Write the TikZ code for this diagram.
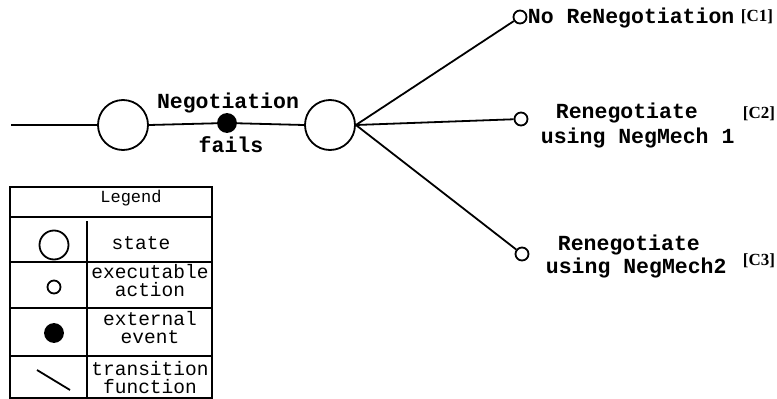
\documentclass[tikz,border=0pt]{standalone}
\usepackage{fontspec}
\setmainfont{Liberation Serif}
\setmonofont{Liberation Mono}
\begin{document}
\begin{tikzpicture}[x=1pt,y=-1pt,
  line width=1.8pt,
  statenode/.style={circle,draw,fill=white,inner sep=0pt,minimum size=50pt},
  actnode/.style={circle,draw,fill=white,inner sep=0pt,minimum size=13pt},
  evtnode/.style={circle,draw,fill=black,inner sep=0pt,minimum size=18pt},
  lbl/.style={inner sep=0pt,font=\fontsize{21.5}{24}\selectfont\ttfamily\bfseries},
  cref/.style={inner sep=0pt,font=\fontsize{17}{19}\selectfont\rmfamily\bfseries},
  legtxt/.style={inner sep=0pt,align=center,font=\fontsize{19.5}{18}\selectfont\ttfamily},
  legsmall/.style={inner sep=0pt,font=\fontsize{17}{19}\selectfont\ttfamily}
]
\useasboundingbox (0,0) rectangle (777,399);
% main chain
\coordinate (start) at (11,125);
\node[statenode] (s1) at (123,125) {};
\node[evtnode] (ev) at (227,123) {};
\node[statenode] (s2) at (330,125) {};
\node[actnode] (c1) at (520,17) {};
\node[actnode] (c2) at (521,119) {};
\node[actnode] (c3) at (522,254) {};
\draw (start) -- (s1.west);
\draw (s1.east) -- (ev);
\draw (ev) -- (s2.west);
\draw (s2.east) -- (c1);
\draw (s2.east) -- (c2);
\draw (s2.east) -- (c3);
% labels
\node[lbl,anchor=base] (tneg) at (228,108) {Negotiation};
\node[lbl,anchor=base] (tfail) at (231,152) {fails};
\node[lbl,anchor=base west] (t1) at (527,23) {No ReNegotiation};
\node[cref,anchor=base west] (r1) at (740,21.5) {[C1]};
\node[lbl,anchor=base west] (t2a) at (555,118) {Renegotiate};
\node[lbl,anchor=base west] (t2b) at (540,143) {using NegMech 1};
\node[cref,anchor=base west] (r2) at (742,118) {[C2]};
\node[lbl,anchor=base west] (t3a) at (557,250) {Renegotiate};
\node[lbl,anchor=base west] (t3b) at (545,273) {using NegMech2};
\node[cref,anchor=base west] (r3) at (742,265) {[C3]};
% legend
\draw (10,187) rectangle (212,398);
\draw (10,217) -- (212,217);
\draw (10,262) -- (212,262);
\draw (10,308) -- (212,308);
\draw (10,356) -- (212,356);
\draw (87,221) -- (87,398);
\node[legsmall] (lg) at (131,198) {Legend};
\node[circle,draw,inner sep=0pt,minimum size=29pt] (ls) at (54,245) {};
\node[actnode] (la) at (54,287) {};
\node[evtnode] (le) at (54,333) {};
\coordinate (lt1) at (37,370);
\coordinate (lt2) at (70,390);
\draw (lt1) -- (lt2);
\node[legtxt] (xs) at (141,243) {state};
\node[legtxt] (xa) at (150,281) {executable\\action};
\node[legtxt] (xe) at (150,328) {external\\event};
\node[legtxt] (xt) at (150,378) {transition\\function};
\end{tikzpicture}
\end{document}
